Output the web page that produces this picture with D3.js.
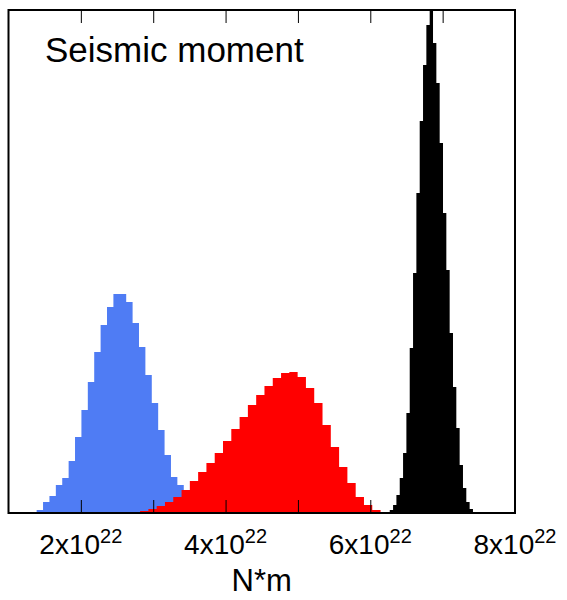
<!DOCTYPE html>
<html>
<head>
<meta charset="utf-8">
<title>Seismic moment</title>
<script src="https://d3js.org/d3.v7.min.js"></script>
<style>
  body { margin: 0; background: #fff; }
  text { font-family: "Liberation Sans", Arial, Helvetica, sans-serif; fill: #000; }
  .axis path { display: none; }
  .axis line { stroke: #000; stroke-width: 1; }
</style>
</head>
<body>
<svg id="chart" width="567" height="600"></svg>
<script>
// histogram bins: first bin edge and bin width in units of 1e22 N*m, counts per bin
var blueStart = 1.389, blueWidth = 0.0884;
var blueCounts = [3, 11, 17, 28, 35, 52, 76, 103, 131, 161, 188, 206, 219, 219, 211,
                  190, 166, 138, 110, 83, 58, 36, 28, 18, 10, 5, 2];

var redStart = 2.704, redWidth = 0.1146;
var redCounts = [1, 2, 4, 7, 11, 16, 23, 32, 41, 50, 60, 72, 84, 96, 108, 118, 127, 135,
                 140, 141, 136, 125, 110, 88, 66, 46, 30, 16, 8, 3];

var blackStart = 6.269, blackWidth = 0.046;
var blackCounts = [3, 8, 18, 35, 60, 100, 165, 240, 320, 392, 448, 488, 503, 470, 430,
                   370, 300, 243, 180, 126, 85, 48, 25, 11, 4];

var tickValues = [2, 3, 4, 5, 6, 7, 8];
var labelTicks = [2, 4, 6, 8];

var svg = d3.select("#chart");
// plot box (note: "top" is reserved on window, so use other names)
var pLeft = 8.5, pRight = 515, pTop = 10, pBottom = 513;

var x = d3.scaleLinear().domain([1, 8]).range([pLeft, pRight]);
var y = d3.scaleLinear().domain([0, 503]).range([pBottom, pTop]);

// step points: one per bin edge, last edge repeats the last count
function steps(start, width, counts) {
  var pts = counts.map(function(c, i) { return { e: start + i * width, n: c }; });
  pts.push({ e: start + counts.length * width, n: counts[counts.length - 1] });
  return pts;
}

var area = d3.area()
  .curve(d3.curveStepAfter)
  .x(function(d) { return x(d.e); })
  .y0(y(0))
  .y1(function(d) { return y(d.n); });

var series = [
  { data: steps(blueStart, blueWidth, blueCounts), color: "#4f7cf4" },
  { data: steps(redStart, redWidth, redCounts), color: "#ff0000" },
  { data: steps(blackStart, blackWidth, blackCounts), color: "#000000" }
];

svg.append("g").selectAll("path")
  .data(series)
  .enter().append("path")
    .attr("d", function(s) { return area(s.data); })
    .attr("fill", function(s) { return s.color; });

// inward ticks, bottom and top
var xAxis = d3.axisBottom(x).tickValues(tickValues).tickSizeInner(-13).tickSizeOuter(0).tickFormat("");
svg.append("g").attr("class", "axis").attr("transform", "translate(0," + pBottom + ")").call(xAxis);
var xTop = d3.axisTop(x).tickValues(tickValues).tickSizeInner(-13).tickSizeOuter(0).tickFormat("");
svg.append("g").attr("class", "axis").attr("transform", "translate(0," + pTop + ")").call(xTop);

// tick labels like 2x10^22
var labels = svg.append("g").selectAll("text")
  .data(labelTicks)
  .enter().append("text")
    .attr("x", function(d) { return x(d); })
    .attr("y", 554)
    .attr("text-anchor", "middle")
    .style("font-size", "28px");
labels.append("tspan").text(function(d) { return d + "x10"; });
labels.append("tspan").attr("dy", -11).style("font-size", "20px").text("22");

// frame
svg.append("rect")
  .attr("x", pLeft).attr("y", pTop)
  .attr("width", pRight - pLeft).attr("height", pBottom - pTop)
  .attr("fill", "none").attr("stroke", "#000").attr("stroke-width", 2);

svg.append("text")
  .attr("x", (pLeft + pRight) / 2)
  .attr("y", 591)
  .attr("text-anchor", "middle")
  .style("font-size", "31px")
  .text("N*m");

svg.append("text")
  .attr("x", 45)
  .attr("y", 62)
  .style("font-size", "35px")
  .text("Seismic moment");
</script>
</body>
</html>
